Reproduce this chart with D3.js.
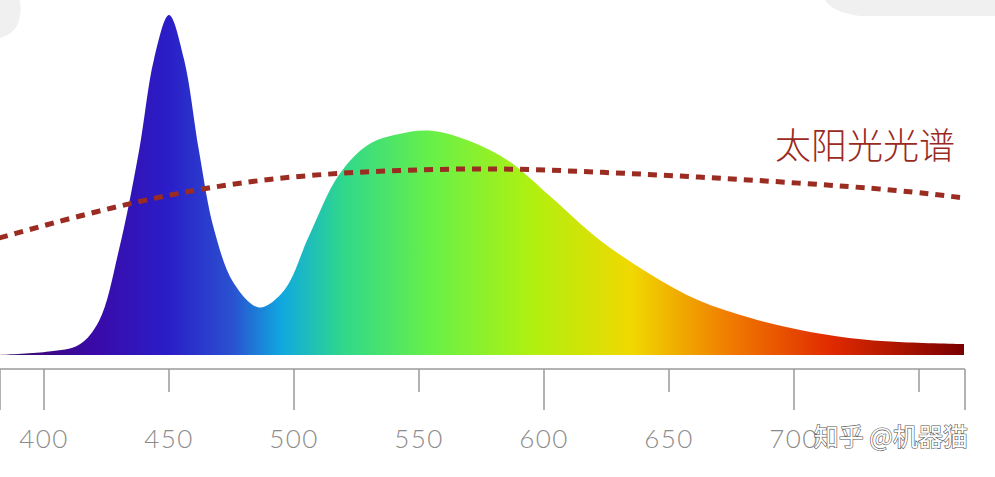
<!DOCTYPE html>
<html><head><meta charset="utf-8">
<script src="https://cdn.jsdelivr.net/npm/d3@7"></script>
<style>body{margin:0;background:#fff}svg{display:block}</style>
</head><body>
<script>
const W = 995, H = 477;
// LED spectrum (nm, relative intensity)
const ledNm  = [382,402,414,422,430,438,444,450,456,462,468,476,486,496,506,518,530,542,554,570,586,602,622,642,662,682,702,722,742,768];
const ledVal = [0,0.01,0.03,0.10,0.31,0.6,0.87,1.0,0.87,0.6,0.37,0.21,0.14,0.19,0.35,0.53,0.62,0.65,0.66,0.63,0.57,0.47,0.34,0.24,0.16,0.11,0.074,0.05,0.038,0.032];
// sunlight spectrum
const sunNm  = [382,422,462,502,542,582,622,662,702,742,768];
const sunVal = [0.344,0.426,0.491,0.529,0.544,0.55,0.538,0.524,0.506,0.485,0.462];
const majorTicks = [400,500,600,700];
const minorTicks = [450,550,650,750];
const tickLabels = [400,450,500,550,600,650,700];
const gradStops = [[382,"#3a0a66"],[420,"#3a0aa8"],[450,"#2a1ec8"],[475,"#2a50d0"],[495,"#10a8e0"],[520,"#30d88a"],[555,"#68f048"],[595,"#b0f010"],[635,"#f0d800"],[675,"#f07a00"],[715,"#e02a00"],[768,"#7a0000"]];

const x = d3.scaleLinear([382.4, 768.4], [0, 965]);
const y = d3.scaleLinear([0, 1], [355, 15]);

const svg = d3.select("body").append("svg").attr("width", W).attr("height", H);

// light grey background blobs at top
svg.append("path").attr("d","M0,0 H20 Q24,32 0,38 Z").attr("fill","#f0f0f0");
svg.append("path").attr("d","M825,0 H995 V16 H860 Q832,12 825,0 Z").attr("fill","#f0f0f0");

const grad = svg.append("defs").append("linearGradient").attr("id","spec")
  .attr("gradientUnits","userSpaceOnUse").attr("x1",x(382.4)).attr("x2",x(768.4)).attr("y1",0).attr("y2",0);
grad.selectAll("stop").data(gradStops).enter().append("stop")
  .attr("offset", d => (x(d[0]) / x(768.4)))
  .attr("stop-color", d => d[1]);

const led = ledNm.map((n, i) => [n, ledVal[i]]);
svg.append("path").datum(led)
  .attr("d", d3.area().x(d => x(d[0])).y0(y(0)).y1(d => y(d[1])).curve(d3.curveCatmullRom))
  .attr("fill", "url(#spec)");

const sun = sunNm.map((n, i) => [n, sunVal[i]]);
svg.append("path").datum(sun)
  .attr("d", d3.line().x(d => x(d[0])).y(d => y(d[1])).curve(d3.curveBasis))
  .attr("fill","none").attr("stroke","#9b2c22").attr("stroke-width",5)
  .attr("stroke-dasharray","9,7");

svg.append("text").attr("x",955).attr("y",159).attr("text-anchor","end")
  .attr("font-family","Noto Sans CJK SC").attr("font-weight",300).attr("font-size",36).attr("fill","#9a2a1e")
  .text("太阳光光谱");

// axis
const ax = svg.append("g").attr("stroke","#9a9a9a").attr("stroke-width",1.5);
ax.append("line").attr("x1",0).attr("x2",x(768.4)).attr("y1",369).attr("y2",369);
ax.selectAll(".maj").data(majorTicks.concat([382.4,768.4])).enter().append("line")
  .attr("x1",d=>x(d)).attr("x2",d=>x(d)).attr("y1",369).attr("y2",410);
ax.selectAll(".min").data(minorTicks).enter().append("line")
  .attr("x1",d=>x(d)).attr("x2",d=>x(d)).attr("y1",369).attr("y2",392);
svg.selectAll(".lbl").data(tickLabels).enter().append("text")
  .attr("x",d=>x(d)).attr("y",448).attr("text-anchor","middle")
  .attr("font-family","Lato").attr("font-weight",300).attr("font-size",26).attr("fill","#8c8c8c")
  .attr("letter-spacing",1.5)
  .text(d=>d);

// watermark
svg.append("text").attr("x",968).attr("y",446).attr("text-anchor","end")
  .attr("font-family","Noto Sans CJK SC").attr("font-size",25).attr("fill","#fff")
  .attr("stroke","#555").attr("stroke-width",1.2).attr("paint-order","stroke")
  .text("知乎 @机器猫");
</script>
</body></html>
